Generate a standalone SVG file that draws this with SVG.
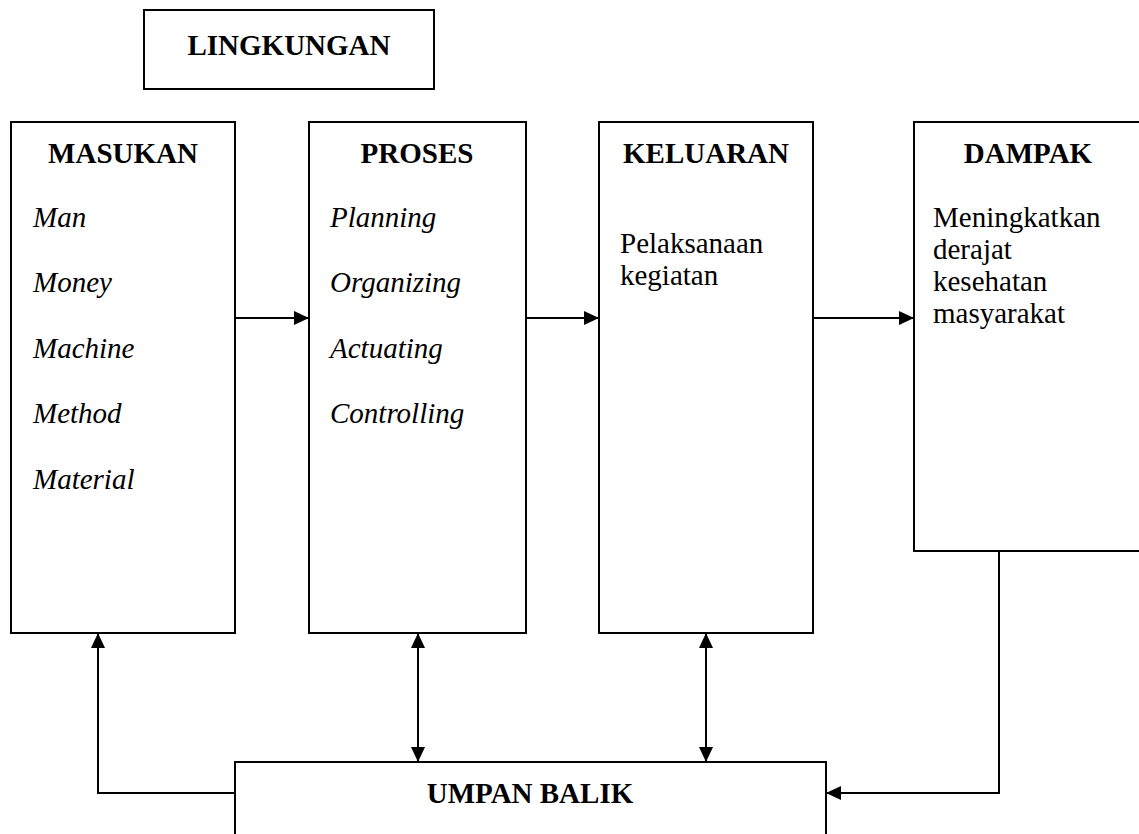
<svg xmlns="http://www.w3.org/2000/svg" width="1139" height="834" viewBox="0 0 1139 834">
<style>
.box{fill:#fff;stroke:#000;stroke-width:2}
.t{font-family:"Liberation Serif","Times New Roman",serif;font-size:29px;fill:#000}
.b{font-weight:bold;text-anchor:middle}
.i{font-style:italic}
.ln{fill:none;stroke:#000;stroke-width:2}
</style>
<defs>
<marker id="ah" viewBox="0 0 15 14" refX="15" refY="7" markerWidth="15" markerHeight="14" markerUnits="userSpaceOnUse" orient="auto-start-reverse">
<path d="M0,0 L15,7 L0,14 Z" fill="#000"/>
</marker>
</defs>
<rect width="1139" height="834" fill="#fff"/>
<g id="lingkungan">
<rect class="box" x="144" y="10" width="290" height="79"/>
<text class="t b" x="289" y="55">LINGKUNGAN</text>
</g>
<g id="masukan">
<rect class="box" x="11" y="122" width="224" height="511"/>
<text class="t b" x="123" y="163">MASUKAN</text>
<text class="t i" x="33" y="227">Man</text>
<text class="t i" x="33" y="292">Money</text>
<text class="t i" x="33" y="358">Machine</text>
<text class="t i" x="33" y="423">Method</text>
<text class="t i" x="33" y="489">Material</text>
</g>
<g id="proses">
<rect class="box" x="309" y="122" width="217" height="511"/>
<text class="t b" x="417" y="163">PROSES</text>
<text class="t i" x="330" y="227">Planning</text>
<text class="t i" x="330" y="292">Organizing</text>
<text class="t i" x="330" y="358">Actuating</text>
<text class="t i" x="330" y="423">Controlling</text>
</g>
<g id="keluaran">
<rect class="box" x="599" y="122" width="214" height="511"/>
<text class="t b" x="706" y="163">KELUARAN</text>
<text class="t" x="620" y="253">Pelaksanaan</text>
<text class="t" x="620" y="285">kegiatan</text>
</g>
<g id="dampak">
<path class="ln" d="M1141,122 H914 V551 H1141"/>
<text class="t b" x="1028" y="163">DAMPAK</text>
<text class="t" x="933" y="227">Meningkatkan</text>
<text class="t" x="933" y="259">derajat</text>
<text class="t" x="933" y="291">kesehatan</text>
<text class="t" x="933" y="323">masyarakat</text>
</g>
<g id="umpan-balik">
<path class="ln" d="M235,836 V762 H826 V836"/>
<text class="t b" x="530" y="803">UMPAN BALIK</text>
</g>
<g id="connectors">
<line class="ln" x1="235" y1="318" x2="309" y2="318" marker-end="url(#ah)"/>
<line class="ln" x1="526" y1="318" x2="599" y2="318" marker-end="url(#ah)"/>
<line class="ln" x1="813" y1="318" x2="914" y2="318" marker-end="url(#ah)"/>
<path class="ln" d="M235,793 H98 V633" marker-end="url(#ah)"/>
<line class="ln" x1="418" y1="633" x2="418" y2="762" marker-start="url(#ah)" marker-end="url(#ah)"/>
<line class="ln" x1="706" y1="633" x2="706" y2="762" marker-start="url(#ah)" marker-end="url(#ah)"/>
<path class="ln" d="M999,551 V793 H826" marker-end="url(#ah)"/>
</g>
</svg>
